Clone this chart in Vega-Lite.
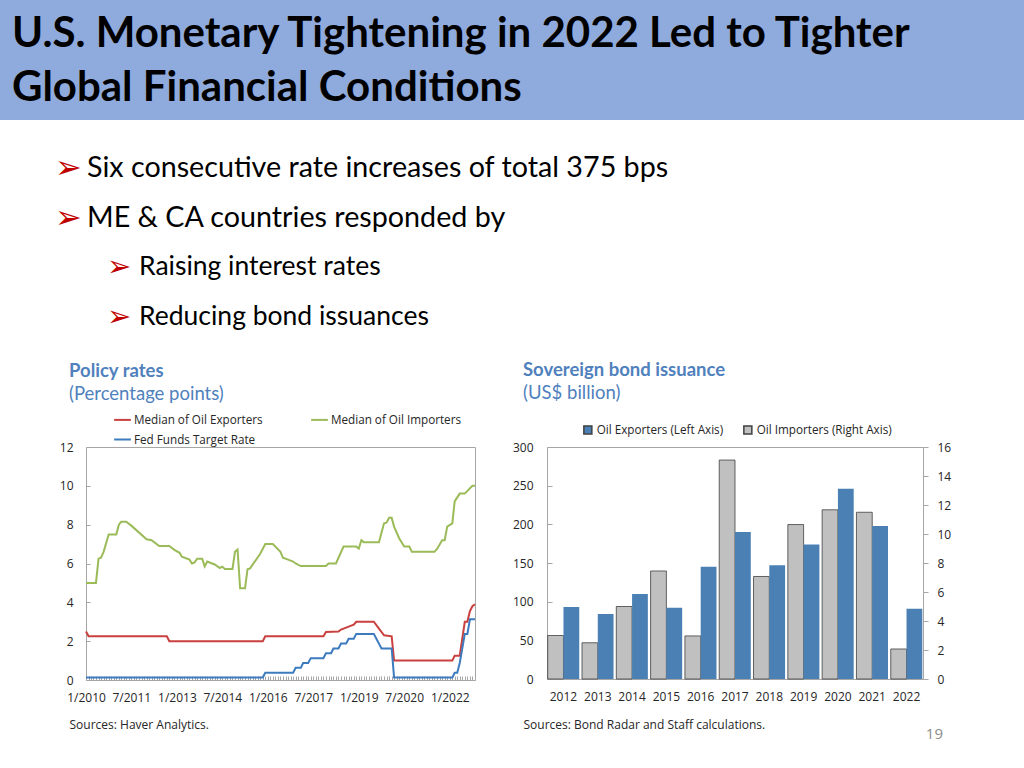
{
  "$schema": "https://vega.github.io/schema/vega-lite/v6.json",
  "padding": 0,
  "background": "white",
  "spacing": 0,
  "config": {
    "font": "Open Sans",
    "view": {"stroke": "#A6A6A6", "strokeWidth": 1},
    "axis": {"grid": false, "domain": false, "labelFont": "Open Sans", "labelFontSize": 12, "labelColor": "#262626", "tickColor": "#A6A6A6", "titleFont": "Open Sans", "titleFontSize": 12, "titleFontWeight": "normal", "titleColor": "#262626"},
    "legend": {"labelFont": "Open Sans", "labelFontSize": 11.7, "labelColor": "#262626", "title": null}
  },
  "resolve": {
    "scale": {"color": "independent", "size": "independent", "x": "independent", "y": "independent", "xOffset": "independent"},
    "legend": {"color": "independent", "size": "independent"}
  },
  "datasets": {
    "rates": [
      {"date": "2010-01", "series": "Median of Oil Importers", "value": 5.0},
      {"date": "2010-05", "series": "Median of Oil Importers", "value": 5.0},
      {"date": "2010-06", "series": "Median of Oil Importers", "value": 6.25},
      {"date": "2010-07", "series": "Median of Oil Importers", "value": 6.3},
      {"date": "2010-08", "series": "Median of Oil Importers", "value": 6.6},
      {"date": "2010-10", "series": "Median of Oil Importers", "value": 7.5},
      {"date": "2011-01", "series": "Median of Oil Importers", "value": 7.5},
      {"date": "2011-02", "series": "Median of Oil Importers", "value": 8.0},
      {"date": "2011-03", "series": "Median of Oil Importers", "value": 8.15},
      {"date": "2011-05", "series": "Median of Oil Importers", "value": 8.15},
      {"date": "2011-07", "series": "Median of Oil Importers", "value": 7.95},
      {"date": "2012-01", "series": "Median of Oil Importers", "value": 7.25},
      {"date": "2012-03", "series": "Median of Oil Importers", "value": 7.2},
      {"date": "2012-06", "series": "Median of Oil Importers", "value": 6.9},
      {"date": "2012-10", "series": "Median of Oil Importers", "value": 6.9},
      {"date": "2012-12", "series": "Median of Oil Importers", "value": 6.7},
      {"date": "2013-02", "series": "Median of Oil Importers", "value": 6.55},
      {"date": "2013-03", "series": "Median of Oil Importers", "value": 6.35},
      {"date": "2013-06", "series": "Median of Oil Importers", "value": 6.2},
      {"date": "2013-07", "series": "Median of Oil Importers", "value": 6.0},
      {"date": "2013-08", "series": "Median of Oil Importers", "value": 6.05},
      {"date": "2013-09", "series": "Median of Oil Importers", "value": 6.25},
      {"date": "2013-11", "series": "Median of Oil Importers", "value": 6.25},
      {"date": "2013-12", "series": "Median of Oil Importers", "value": 5.85},
      {"date": "2014-01", "series": "Median of Oil Importers", "value": 6.1},
      {"date": "2014-03", "series": "Median of Oil Importers", "value": 6.0},
      {"date": "2014-04", "series": "Median of Oil Importers", "value": 5.95},
      {"date": "2014-06", "series": "Median of Oil Importers", "value": 5.77},
      {"date": "2014-07", "series": "Median of Oil Importers", "value": 5.84},
      {"date": "2014-08", "series": "Median of Oil Importers", "value": 5.72},
      {"date": "2014-11", "series": "Median of Oil Importers", "value": 5.72},
      {"date": "2014-12", "series": "Median of Oil Importers", "value": 6.6},
      {"date": "2015-01", "series": "Median of Oil Importers", "value": 6.72},
      {"date": "2015-02", "series": "Median of Oil Importers", "value": 4.72},
      {"date": "2015-04", "series": "Median of Oil Importers", "value": 4.72},
      {"date": "2015-05", "series": "Median of Oil Importers", "value": 5.7},
      {"date": "2015-06", "series": "Median of Oil Importers", "value": 5.75},
      {"date": "2015-10", "series": "Median of Oil Importers", "value": 6.5},
      {"date": "2015-12", "series": "Median of Oil Importers", "value": 7.0},
      {"date": "2016-03", "series": "Median of Oil Importers", "value": 7.0},
      {"date": "2016-06", "series": "Median of Oil Importers", "value": 6.6},
      {"date": "2016-07", "series": "Median of Oil Importers", "value": 6.3},
      {"date": "2016-09", "series": "Median of Oil Importers", "value": 6.2},
      {"date": "2016-11", "series": "Median of Oil Importers", "value": 6.1},
      {"date": "2016-12", "series": "Median of Oil Importers", "value": 6.0},
      {"date": "2017-02", "series": "Median of Oil Importers", "value": 5.87},
      {"date": "2017-12", "series": "Median of Oil Importers", "value": 5.87},
      {"date": "2018-01", "series": "Median of Oil Importers", "value": 6.0},
      {"date": "2018-04", "series": "Median of Oil Importers", "value": 6.0},
      {"date": "2018-07", "series": "Median of Oil Importers", "value": 6.87},
      {"date": "2018-12", "series": "Median of Oil Importers", "value": 6.87},
      {"date": "2019-01", "series": "Median of Oil Importers", "value": 6.77},
      {"date": "2019-02", "series": "Median of Oil Importers", "value": 7.2},
      {"date": "2019-03", "series": "Median of Oil Importers", "value": 7.1},
      {"date": "2019-09", "series": "Median of Oil Importers", "value": 7.1},
      {"date": "2019-11", "series": "Median of Oil Importers", "value": 8.07},
      {"date": "2019-12", "series": "Median of Oil Importers", "value": 8.1},
      {"date": "2020-01", "series": "Median of Oil Importers", "value": 8.35},
      {"date": "2020-02", "series": "Median of Oil Importers", "value": 8.35},
      {"date": "2020-03", "series": "Median of Oil Importers", "value": 7.9},
      {"date": "2020-05", "series": "Median of Oil Importers", "value": 7.3},
      {"date": "2020-07", "series": "Median of Oil Importers", "value": 6.87},
      {"date": "2020-09", "series": "Median of Oil Importers", "value": 6.87},
      {"date": "2020-10", "series": "Median of Oil Importers", "value": 6.6},
      {"date": "2021-07", "series": "Median of Oil Importers", "value": 6.6},
      {"date": "2021-08", "series": "Median of Oil Importers", "value": 6.75},
      {"date": "2021-10", "series": "Median of Oil Importers", "value": 7.2},
      {"date": "2021-11", "series": "Median of Oil Importers", "value": 7.2},
      {"date": "2021-12", "series": "Median of Oil Importers", "value": 7.9},
      {"date": "2022-02", "series": "Median of Oil Importers", "value": 8.07},
      {"date": "2022-03", "series": "Median of Oil Importers", "value": 9.2},
      {"date": "2022-05", "series": "Median of Oil Importers", "value": 9.6},
      {"date": "2022-07", "series": "Median of Oil Importers", "value": 9.6},
      {"date": "2022-10", "series": "Median of Oil Importers", "value": 10.0},
      {"date": "2022-11", "series": "Median of Oil Importers", "value": 10.0},
      {"date": "2010-01", "series": "Median of Oil Exporters", "value": 2.5},
      {"date": "2010-02", "series": "Median of Oil Exporters", "value": 2.25},
      {"date": "2012-09", "series": "Median of Oil Exporters", "value": 2.25},
      {"date": "2012-10", "series": "Median of Oil Exporters", "value": 2.0},
      {"date": "2015-11", "series": "Median of Oil Exporters", "value": 2.0},
      {"date": "2015-12", "series": "Median of Oil Exporters", "value": 2.25},
      {"date": "2017-11", "series": "Median of Oil Exporters", "value": 2.25},
      {"date": "2017-12", "series": "Median of Oil Exporters", "value": 2.47},
      {"date": "2018-05", "series": "Median of Oil Exporters", "value": 2.5},
      {"date": "2018-06", "series": "Median of Oil Exporters", "value": 2.6},
      {"date": "2018-09", "series": "Median of Oil Exporters", "value": 2.75},
      {"date": "2018-11", "series": "Median of Oil Exporters", "value": 2.85},
      {"date": "2018-12", "series": "Median of Oil Exporters", "value": 3.0},
      {"date": "2019-07", "series": "Median of Oil Exporters", "value": 3.0},
      {"date": "2019-09", "series": "Median of Oil Exporters", "value": 2.65},
      {"date": "2019-11", "series": "Median of Oil Exporters", "value": 2.3},
      {"date": "2020-02", "series": "Median of Oil Exporters", "value": 2.25},
      {"date": "2020-03", "series": "Median of Oil Exporters", "value": 1.0},
      {"date": "2022-02", "series": "Median of Oil Exporters", "value": 1.0},
      {"date": "2022-03", "series": "Median of Oil Exporters", "value": 1.25},
      {"date": "2022-05", "series": "Median of Oil Exporters", "value": 1.25},
      {"date": "2022-07", "series": "Median of Oil Exporters", "value": 3.0},
      {"date": "2022-08", "series": "Median of Oil Exporters", "value": 3.0},
      {"date": "2022-09", "series": "Median of Oil Exporters", "value": 3.55},
      {"date": "2022-10", "series": "Median of Oil Exporters", "value": 3.8},
      {"date": "2022-11", "series": "Median of Oil Exporters", "value": 3.9},
      {"date": "2010-01", "series": "Fed Funds Target Rate", "value": 0.125},
      {"date": "2015-11", "series": "Fed Funds Target Rate", "value": 0.125},
      {"date": "2015-12", "series": "Fed Funds Target Rate", "value": 0.375},
      {"date": "2016-11", "series": "Fed Funds Target Rate", "value": 0.375},
      {"date": "2016-12", "series": "Fed Funds Target Rate", "value": 0.625},
      {"date": "2017-02", "series": "Fed Funds Target Rate", "value": 0.625},
      {"date": "2017-03", "series": "Fed Funds Target Rate", "value": 0.875},
      {"date": "2017-05", "series": "Fed Funds Target Rate", "value": 0.875},
      {"date": "2017-06", "series": "Fed Funds Target Rate", "value": 1.125},
      {"date": "2017-11", "series": "Fed Funds Target Rate", "value": 1.125},
      {"date": "2017-12", "series": "Fed Funds Target Rate", "value": 1.375},
      {"date": "2018-02", "series": "Fed Funds Target Rate", "value": 1.375},
      {"date": "2018-03", "series": "Fed Funds Target Rate", "value": 1.625},
      {"date": "2018-05", "series": "Fed Funds Target Rate", "value": 1.625},
      {"date": "2018-06", "series": "Fed Funds Target Rate", "value": 1.875},
      {"date": "2018-08", "series": "Fed Funds Target Rate", "value": 1.875},
      {"date": "2018-09", "series": "Fed Funds Target Rate", "value": 2.125},
      {"date": "2018-11", "series": "Fed Funds Target Rate", "value": 2.125},
      {"date": "2018-12", "series": "Fed Funds Target Rate", "value": 2.375},
      {"date": "2019-07", "series": "Fed Funds Target Rate", "value": 2.375},
      {"date": "2019-08", "series": "Fed Funds Target Rate", "value": 2.125},
      {"date": "2019-09", "series": "Fed Funds Target Rate", "value": 1.875},
      {"date": "2019-10", "series": "Fed Funds Target Rate", "value": 1.625},
      {"date": "2020-02", "series": "Fed Funds Target Rate", "value": 1.625},
      {"date": "2020-03", "series": "Fed Funds Target Rate", "value": 0.125},
      {"date": "2022-02", "series": "Fed Funds Target Rate", "value": 0.125},
      {"date": "2022-03", "series": "Fed Funds Target Rate", "value": 0.375},
      {"date": "2022-04", "series": "Fed Funds Target Rate", "value": 0.375},
      {"date": "2022-05", "series": "Fed Funds Target Rate", "value": 0.875},
      {"date": "2022-06", "series": "Fed Funds Target Rate", "value": 1.625},
      {"date": "2022-07", "series": "Fed Funds Target Rate", "value": 2.375},
      {"date": "2022-08", "series": "Fed Funds Target Rate", "value": 2.375},
      {"date": "2022-09", "series": "Fed Funds Target Rate", "value": 3.125},
      {"date": "2022-11", "series": "Fed Funds Target Rate", "value": 3.125}
    ],
    "bonds": [
      {"year": "2012", "series": "Oil Exporters (Left Axis)", "value": 93},
      {"year": "2013", "series": "Oil Exporters (Left Axis)", "value": 84},
      {"year": "2014", "series": "Oil Exporters (Left Axis)", "value": 110},
      {"year": "2015", "series": "Oil Exporters (Left Axis)", "value": 92},
      {"year": "2016", "series": "Oil Exporters (Left Axis)", "value": 145},
      {"year": "2017", "series": "Oil Exporters (Left Axis)", "value": 190},
      {"year": "2018", "series": "Oil Exporters (Left Axis)", "value": 147},
      {"year": "2019", "series": "Oil Exporters (Left Axis)", "value": 174},
      {"year": "2020", "series": "Oil Exporters (Left Axis)", "value": 246},
      {"year": "2021", "series": "Oil Exporters (Left Axis)", "value": 198},
      {"year": "2022", "series": "Oil Exporters (Left Axis)", "value": 91},
      {"year": "2012", "series": "Oil Importers (Right Axis)", "value": 3.0},
      {"year": "2013", "series": "Oil Importers (Right Axis)", "value": 2.5},
      {"year": "2014", "series": "Oil Importers (Right Axis)", "value": 5.0},
      {"year": "2015", "series": "Oil Importers (Right Axis)", "value": 7.45},
      {"year": "2016", "series": "Oil Importers (Right Axis)", "value": 2.97},
      {"year": "2017", "series": "Oil Importers (Right Axis)", "value": 15.1},
      {"year": "2018", "series": "Oil Importers (Right Axis)", "value": 7.07},
      {"year": "2019", "series": "Oil Importers (Right Axis)", "value": 10.65},
      {"year": "2020", "series": "Oil Importers (Right Axis)", "value": 11.67},
      {"year": "2021", "series": "Oil Importers (Right Axis)", "value": 11.5},
      {"year": "2022", "series": "Oil Importers (Right Axis)", "value": 2.07}
    ]
  },
  "vconcat": [
    {
      "width": 1024,
      "height": 120,
      "view": {"fill": "#8FAADC", "stroke": null},
      "data": {"values": [
        {"line": 1, "level": 0, "text": "U.S. Monetary Tightening in 2022 Led to Tighter"},
        {"line": 2, "level": 0, "text": "Global Financial Conditions"}
      ]},
      "mark": {"type": "text", "align": "left", "baseline": "middle", "font": "Lato", "fontWeight": "bold", "fontSize": 42, "color": "#000000"},
      "encoding": {
        "x": {"field": "level", "type": "quantitative", "axis": null, "scale": {"domain": [0, 1], "range": [12, 1012]}},
        "y": {"field": "line", "type": "ordinal", "axis": null, "scale": {"type": "point", "range": [34, 88], "padding": 0}},
        "text": {"field": "text"}
      }
    },
    {
      "width": 1024,
      "height": 240,
      "view": {"stroke": null},
      "data": {"values": [
        {"order": 1, "level": 1, "text": "Six consecutive rate increases of total 375 bps"},
        {"order": 2, "level": 1, "text": "ME & CA countries responded by"},
        {"order": 3, "level": 2, "text": "Raising interest rates"},
        {"order": 4, "level": 2, "text": "Reducing bond issuances"}
      ]},
      "encoding": {
        "x": {"field": "level", "type": "quantitative", "axis": null, "scale": {"domain": [1, 2], "range": [55, 107]}},
        "y": {"field": "order", "type": "ordinal", "axis": null, "scale": {"type": "point", "range": [48, 197], "padding": 0}}
      },
      "layer": [
        {
          "mark": {"type": "text", "text": "➢", "align": "left", "baseline": "middle", "font": "DejaVu Sans", "color": "#C00000"},
          "encoding": {"size": {"field": "level", "type": "quantitative", "legend": null, "scale": {"domain": [1, 2], "range": [32, 29]}}}
        },
        {
          "mark": {"type": "text", "align": "left", "baseline": "middle", "font": "Lato", "color": "#000000", "dx": 32},
          "encoding": {
            "text": {"field": "text"},
            "size": {"field": "level", "type": "quantitative", "legend": null, "scale": {"domain": [1, 2], "range": [28.7, 26.5]}}
          }
        }
      ],
      "resolve": {"scale": {"size": "independent"}}
    },
    {
      "spacing": 26,
      "resolve": {
        "scale": {"color": "independent", "x": "independent", "y": "independent"},
        "legend": {"color": "independent"}
      },
      "hconcat": [
        {
          "width": 19,
          "height": 233,
          "view": {"stroke": null},
          "data": {"values": []},
          "mark": {"type": "point", "opacity": 0},
          "encoding": {}
        },
        {
          "width": 389,
          "height": 233,
          "title": {"text": "Policy rates", "subtitle": "(Percentage points)", "anchor": "start", "frame": "group", "dx": -17, "offset": 7, "color": "#4F81BD", "subtitleColor": "#4F81BD", "font": "Lato", "fontSize": 18.5, "fontWeight": "bold", "subtitleFont": "Lato", "subtitleFontSize": 18.5, "subtitlePadding": 4},
          "data": {"name": "rates"},
          "mark": {"type": "line", "strokeWidth": 2},
          "encoding": {
            "x": {
              "field": "date", "type": "temporal",
              "scale": {"type": "utc", "domain": [{"year": 2010, "month": 1, "date": 1, "utc": true}, {"year": 2022, "month": 11, "date": 1, "utc": true}]},
              "axis": {
                "tickCount": {"interval": "month", "step": 1},
                "tickSize": -4,
                "labelPadding": 16,
                "labelOverlap": false,
                "labelFlush": false,
                "labelExpr": "(utcmonth(datum.value) == 0 && utcyear(datum.value) % 3 == 0) || (utcmonth(datum.value) == 6 && utcyear(datum.value) % 3 == 1) ? utcFormat(datum.value, '%-m/%Y') : ''",
                "title": "Sources: Haver Analytics.",
                "titleX": -17,
                "titleY": 44,
                "titleAlign": "left",
                "titleAnchor": "start",
                "titleBaseline": "middle"
              }
            },
            "y": {
              "field": "value", "type": "quantitative",
              "scale": {"domain": [0, 12], "nice": false},
              "axis": {"values": [0, 2, 4, 6, 8, 10, 12], "tickSize": -4, "labelPadding": 17, "minExtent": 40, "title": null}
            },
            "color": {
              "field": "series", "type": "nominal",
              "scale": {"domain": ["Median of Oil Exporters", "Fed Funds Target Rate", "Median of Oil Importers"], "range": ["#C9403E", "#3D7BBF", "#9BBB59"]},
              "legend": {"orient": "none", "legendX": 27, "legendY": -37, "columns": 2, "symbolType": "stroke", "symbolStrokeWidth": 2, "symbolSize": 280, "columnPadding": 44, "rowPadding": 3, "labelOffset": 2}
            }
          }
        },
        {
          "width": 376,
          "height": 232,
          "title": {"text": "Sovereign bond issuance", "subtitle": "(US$ billion)", "anchor": "start", "frame": "group", "dx": -24, "offset": 22, "color": "#4F81BD", "subtitleColor": "#4F81BD", "font": "Lato", "fontSize": 18.5, "fontWeight": "bold", "subtitleFont": "Lato", "subtitleFontSize": 18.5, "subtitlePadding": 4},
          "data": {"name": "bonds"},
          "encoding": {
            "x": {
              "field": "year", "type": "ordinal",
              "scale": {"paddingInner": 0.08, "paddingOuter": 0.02},
              "axis": {"ticks": false, "labelAngle": 0, "labelPadding": 12, "title": "Sources: Bond Radar and Staff calculations.", "titleX": -24, "titleY": 45, "titleAlign": "left", "titleAnchor": "start", "titleBaseline": "middle"}
            },
            "xOffset": {"field": "series", "type": "nominal", "scale": {"domain": ["Oil Importers (Right Axis)", "Oil Exporters (Left Axis)"], "paddingInner": 0, "paddingOuter": 0}},
            "color": {
              "field": "series", "type": "nominal",
              "scale": {"domain": ["Oil Exporters (Left Axis)", "Oil Importers (Right Axis)"], "range": ["#4A80B4", "#C0C0C0"]},
              "legend": {"orient": "none", "legendX": 35, "legendY": -23, "direction": "horizontal", "symbolType": "square", "symbolSize": 64, "columnPadding": 16, "labelOffset": 3}
            }
          },
          "layer": [
            {
              "transform": [{"filter": "datum.series == 'Oil Importers (Right Axis)'"}],
              "mark": {"type": "bar", "stroke": "#404040", "strokeWidth": 0.8},
              "encoding": {
                "y": {"field": "value", "type": "quantitative", "scale": {"domain": [0, 16], "nice": false}, "axis": {"orient": "right", "values": [0, 2, 4, 6, 8, 10, 12, 14, 16], "tickSize": 5, "labelPadding": 9, "title": null}}
              }
            },
            {
              "transform": [{"filter": "datum.series == 'Oil Exporters (Left Axis)'"}],
              "mark": {"type": "bar"},
              "encoding": {
                "y": {"field": "value", "type": "quantitative", "scale": {"domain": [0, 300], "nice": false}, "axis": {"orient": "left", "values": [0, 50, 100, 150, 200, 250, 300], "tickSize": -5, "labelPadding": 19, "minExtent": 40, "title": null}}
              }
            }
          ],
          "resolve": {"scale": {"y": "independent"}}
        }
      ]
    }
  ],
  "title": {"text": "19", "orient": "bottom", "anchor": "end", "frame": "bounds", "fontSize": 15, "font": "Open Sans", "fontWeight": "normal", "color": "#8C8C8C", "dx": -81, "offset": -4}
}
